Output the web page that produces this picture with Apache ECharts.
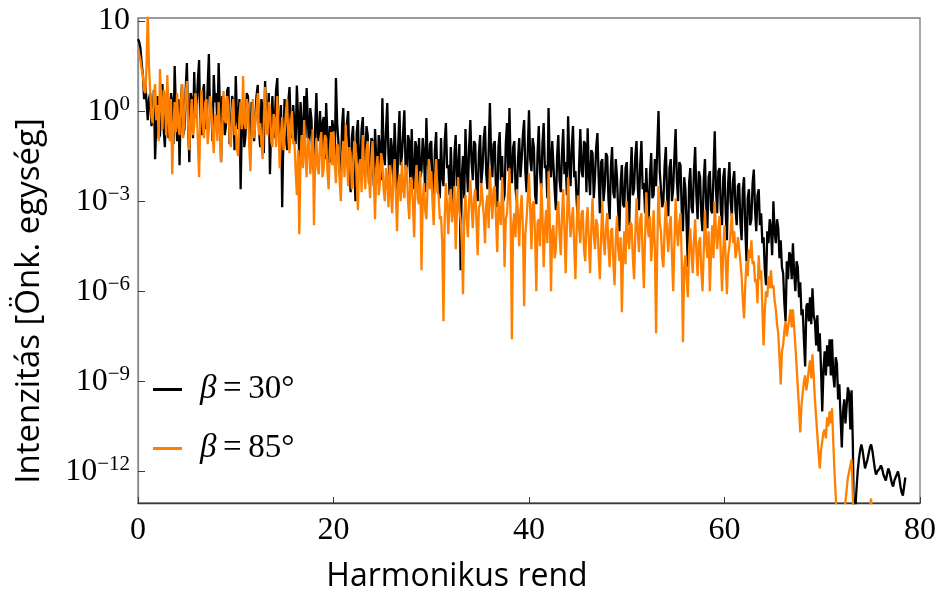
<!DOCTYPE html>
<html>
<head>
<meta charset="utf-8">
<title>Harmonikus spektrum</title>
<script src="https://cdn.jsdelivr.net/npm/echarts@6/dist/echarts.min.js"></script>
<style>
  html, body { margin: 0; padding: 0; background: #fff; }
  #chart { width: 941px; height: 599px; }
</style>
</head>
<body>
<div id="chart"></div>
<script>
// sampling step of the harmonic order axis
const STEP = 0.125;

// log10 of the intensity, one value per STEP (8 per harmonic)
const beta30Log = [
  2.4, 2.3, 2.1, 1.6, 1.2, 0.4, 0.9, 0.3,
  -0.3, 0.4, 0.6, -0.5, -0.2, 0.7, -1.6, -0.4,
  0.5, -0.9, -0.8, 0.3, 0.9, -0.6, -1.2, 0.2,
  0.8, -0.9, -0.5, 0.6, 0.3, -1.1, 1.5, 0.1,
  -1.0, 0.4, -1.8, 0.2, 0.9, -0.8, -0.6, 0.7,
  1.6, -0.4, -1.7, 0.6, 0.4, -0.9, 1.3, -0.2,
  0.2, 1.0, 1.7, -0.5, -0.8, 0.6, 0.9, -0.6,
  -0.3, 0.8, 1.9, -0.2, 0.1, -1.0, 1.2, 0.3,
  0.6, -0.6, 1.6, 0.2, -1.7, 0.5, 0.4, -0.8,
  -0.5, 0.7, 0.8, -1.1, -0.9, 0.5, 0.3, -1.3,
  1.17, -0.2, -0.6, 0.4, -2.6, -0.4, 0.2, -1.2,
  -0.8, 0.6, 0.5, -0.7, -1.5, 0.3, 0.3, -1.0,
  -0.2, 0.5, 0.87, -0.6, -1.2, 0.4, 0.1, -1.4,
  1.0, -0.3, -0.4, 0.6, -2.1, -0.5, 0.5, -0.9,
  -0.3, 0.7, 1.1, -0.6, -1.0, 0.2, -3.2, -0.8,
  0.4, -0.8, -1.3, 0.3, 0.8, -0.5, -0.9, 0.2,
  0.2, -1.1, 0.85, -0.2, -1.6, 0.3, -0.4, -1.7,
  0.5, -0.9, 0.77, -0.3, -1.2, 0.1, -0.3, -1.8,
  -2.0, -0.5, 0.6, -1.0, -0.8, 0.0, -1.5, -0.4,
  -0.2, -1.6, 0.27, -0.8, -1.9, -0.5, -1.7, -0.3,
  -0.6, -1.8, 1.1, -0.4, -1.0, -2.1, -2.3, -0.5,
  0.1, -1.5, -1.4, -0.4, 0.0, -1.7, -2.7, -0.9,
  -0.5, -2.0, -3.0, -0.7, -0.3, -1.9, -1.8, -0.6,
  -0.2, -1.9, -1.6, -0.5, -0.8, -2.4, -2.2, -0.9,
  -1.0, -2.5, -0.6, -1.6, -2.4, -0.8, -1.2, -2.3,
  0.43, -1.4, -1.8, -0.6, 0.27, -1.5, -2.5, -0.9,
  -1.3, -2.4, -0.4, -1.5, -2.8, -1.1, 0.0, -1.8,
  -1.5, -0.7, 0.03, -1.9, -2.2, -0.8, -1.0, -2.6,
  -0.6, -2.0, -2.6, -1.0, -1.2, -2.7, -0.9, -2.2,
  -2.0, -0.9, -1.4, -2.7, -0.23, -1.6, -2.2, -1.1,
  -1.0, -2.4, -3.1, -1.3, -0.7, -2.3, -1.6, -2.9,
  -0.9, -2.2, -2.5, -1.0, -0.4, -1.9, -1.8, -2.8,
  -1.2, -2.3, -3.4, -1.4, -0.8, -2.5, -2.0, -1.1,
  -5.3, -2.2, -1.5, -2.9, -0.6, -1.8, -2.7, -1.2,
  -0.3, -1.7, -2.3, -1.0, -1.1, -2.6, -3.0, -1.4,
  -0.8, -2.4, -1.9, -0.9, -0.5, -2.1, -2.6, -1.3,
  0.27, -1.5, -2.2, -1.1, -1.0, -2.7, -3.2, -1.2,
  -0.7, -2.3, -1.5, -3.0, -2.8, -1.1, -0.4, -2.0,
  0.1, -1.8, -2.4, -1.2, -1.0, -2.6, -3.0, -1.6,
  -0.9, -2.2, -1.6, -0.8, -0.3, -2.0, -2.7, -1.3,
  0.03, -1.6, -2.0, -0.9, -1.2, -2.8, -3.1, -1.4,
  -0.5, -2.0, -2.6, -1.1, -0.4, -1.9, -1.8, -2.9,
  0.1, -1.7, -2.2, -1.0, -1.0, -2.6, -3.3, -1.5,
  -0.8, -2.3, -2.7, -1.4, -0.6, -2.1, -1.7, -2.8,
  -0.17, -1.6, -2.5, -1.2, -0.5, -2.2, -2.0, -3.0,
  -3.6, -1.8, -0.6, -2.0, -2.2, -1.0, -1.1, -2.7,
  -0.57, -2.1, -2.8, -1.3, -1.4, -2.9, -2.2, -1.2,
  -0.73, -2.2, -3.4, -1.7, -1.6, -3.0, -2.5, -1.4,
  -1.5, -2.9, -3.6, -1.9, -1.2, -2.7, -2.9, -1.6,
  -2.2, -3.3, -4.0, -2.4, -1.8, -3.1, -3.2, -1.9,
  -1.7, -3.0, -3.8, -2.2, -1.2, -2.8, -2.6, -1.5,
  -1.0, -2.5, -3.3, -1.8, -1.0, -2.6, -2.4, -3.4,
  -1.9, -3.0, -3.6, -2.1, -1.4, -2.9, -2.8, -1.6,
  -2.5, -1.2, 0.0, -2.0, -2.0, -3.2, -3.0, -1.8,
  -1.2, -2.8, -3.5, -1.9, -1.6, -3.0, -2.6, -1.5,
  -0.6, -2.3, -3.0, -1.7, -1.8, -3.3, -4.0, -2.2,
  -2.6, -3.8, -5.2, -2.4, -1.9, -3.2, -3.4, -2.0,
  -1.2, -2.8, -3.6, -2.0, -2.2, -3.5, -4.0, -2.3,
  -1.6, -3.1, -3.9, -2.2, -2.0, -3.3, -3.4, -2.1,
  -0.67, -2.6, -3.4, -2.0, -1.9, -3.3, -3.8, -2.2,
  -1.9, -3.4, -4.3, -2.4, -1.7, -3.0, -3.5, -2.3,
  -2.0, -3.3, -3.8, -2.5, -2.4, -3.7, -4.3, -2.6,
  -2.2, -3.9, -5.0, -2.9, -2.6, -3.8, -3.6, -2.4,
  -1.95, -3.3, -4.0, -2.8, -2.6, -3.8, -3.4, -4.4,
  -4.2, -5.3, -5.8, -4.0, -4.4, -3.6, -3.9, -4.8,
  -3.0, -4.0, -4.4, -3.6, -3.9, -4.9, -4.3, -5.2,
  -5.4, -6.4, -7.0, -5.0, -5.6, -4.7, -4.8, -5.6,
  -4.4, -5.4, -6.0, -5.0, -5.2, -6.2, -5.7, -6.8,
  -6.6, -7.6, -8.5, -6.5, -6.4, -7.0, -6.2, -7.1,
  -5.9, -6.8, -7.0, -7.8, -6.8, -8.0, -7.4, -8.6,
  -10.0, -8.6, -8.0, -8.8, -7.8, -8.5, -7.6, -8.8,
  -7.6, -8.8, -9.2, -8.2, -8.4, -9.6, -9.1, -10.2,
  -11.2, -10.0, -9.6, -10.4, -9.8, -9.2, -9.4, -10.6,
  -9.3, -11.0, -14, -14, -12.6, -12.0, -11.6, -11.3,
  -11.1, -11.3, -11.6, -11.9, -11.9, -11.6, -11.4, -11.2,
  -11.1, -11.3, -11.6, -11.9, -12.1, -12.0, -12.0, -11.9,
  -11.8, -11.9, -12.1, -12.2, -12.3, -12.1, -11.9, -12.0,
  -12.2, -12.4, -12.5, -12.3, -12.2, -12.1, -12.0, -12.2,
  -12.5, -12.7, -12.8, -12.5, -12.2
];

const beta85Log = [
  2.0, 1.9, 1.7, 1.4, 1.2, 0.7, 0.6, 1.5,
  3.3, 1.5, 0.6, -0.2, -0.4, 0.5, 0.9, -0.3,
  0.2, -1.0, 1.4, 0.3, -0.6, 0.7, 0.5, -0.8,
  1.2, -0.3, -1.0, 0.4, -2.1, -0.6, 0.3, -0.7,
  0.6, -0.5, -0.8, 0.2, 0.9, -0.9, -0.2, 0.5,
  1.0, -0.4, -1.3, -0.2, 0.4, -0.8, -0.5, 0.6,
  0.2, -1.0, -2.2, -0.3, 0.7, -0.4, -0.9, 0.3,
  0.4, -1.1, -0.6, 0.5, 0.1, -0.7, -1.4, -0.1,
  -0.2, -1.0, 0.3, -0.5, -1.7, -0.4, 0.67, -0.3,
  -0.4, 0.5, 0.2, -0.9, -1.2, 0.0, 0.4, -0.8,
  -0.5, -1.3, -1.5, -0.2, 0.3, -0.6, 1.17, -0.4,
  -0.6, 0.4, 0.2, -1.1, -2.0, -0.5, 0.4, -0.9,
  -0.9, 0.1, 0.6, -0.8, -0.4, -1.1, -1.6, -0.3,
  0.8, -0.5, -0.8, 0.3, 0.1, -1.0, -1.2, -0.1,
  -0.3, -1.2, 0.5, -0.6, -1.9, -0.8, -0.2, -1.3,
  -0.8, -0.1, 0.4, -0.9, -1.4, -0.5, 0.0, -1.1,
  -1.0, -2.0, -2.8, -1.3, -4.1, -1.6, -0.8, -1.9,
  -0.3, -1.4, -2.2, -0.9, -1.0, -2.1, -1.6, -0.6,
  -3.8, -1.6, -0.9, -1.9, -2.1, -1.0, -0.7, -2.2,
  -1.9, -0.8, -0.9, -2.0, -2.6, -1.3, -0.7, -1.8,
  -0.67, -1.7, -2.4, -1.1, -1.2, -2.3, -3.0, -1.5,
  -1.0, -2.2, -0.45, -1.6, -2.5, -1.2, -1.4, -2.6,
  -2.0, -1.0, -1.1, -2.4, -3.3, -1.8, -1.6, -2.7,
  -0.8, -1.9, -2.6, -1.3, -1.0, -2.2, -2.9, -1.6,
  -1.0, -2.3, -3.6, -1.9, -1.5, -2.8, -2.4, -1.4,
  -1.7, -2.6, -3.0, -1.9, -2.2, -3.2, -1.8, -2.7,
  -3.4, -2.2, -1.6, -2.7, -4.0, -2.4, -2.1, -3.0,
  -1.7, -2.6, -2.9, -1.8, -1.9, -3.0, -3.6, -2.2,
  -2.3, -3.1, -4.2, -2.4, -1.8, -2.9, -3.1, -2.0,
  -5.3, -3.0, -2.4, -3.3, -3.6, -2.5, -1.6, -2.6,
  -2.0, -3.0, -3.8, -2.4, -1.6, -2.7, -2.8, -3.6,
  -3.5, -4.4, -7.0, -3.6, -2.4, -3.2, -4.1, -2.9,
  -2.6, -3.7, -3.3, -2.5, -4.6, -3.4, -2.2, -3.3,
  -3.6, -4.4, -6.1, -3.5, -2.8, -3.6, -4.2, -3.0,
  -2.3, -3.2, -3.9, -2.9, -2.6, -3.7, -4.8, -3.2,
  -3.1, -2.4, -2.4, -3.5, -4.4, -3.1, -2.8, -3.9,
  -1.9, -2.9, -3.6, -2.6, -2.5, -3.6, -4.7, -3.0,
  -3.0, -3.8, -2.2, -3.2, -5.2, -3.6, -3.4, -2.7,
  -1.9, -3.6, -7.6, -3.8, -3.4, -4.2, -2.6, -3.5,
  -4.5, -3.3, -2.8, -3.9, -6.5, -4.1, -3.6, -2.9,
  -2.07, -3.3, -4.6, -3.1, -3.0, -4.2, -6.0, -3.7,
  -3.6, -4.5, -2.4, -3.4, -5.2, -3.9, -3.3, -4.4,
  -2.0, -3.6, -6.0, -4.0, -3.8, -4.9, -4.6, -3.4,
  -3.0, -4.1, -4.8, -3.5, -2.6, -3.9, -5.4, -3.8,
  -2.2, -3.4, -4.2, -3.6, -3.2, -4.5, -5.6, -3.9,
  -2.8, -3.9, -4.4, -3.4, -3.3, -4.6, -5.0, -3.7,
  -3.2, -4.4, -5.4, -3.9, -2.9, -4.1, -4.6, -3.6,
  -3.8, -4.8, -5.6, -4.2, -3.0, -4.3, -4.8, -3.9,
  -3.4, -4.5, -5.2, -4.0, -3.9, -5.0, -5.8, -4.3,
  -3.5, -4.6, -5.0, -4.2, -6.7, -4.8, -4.0, -5.1,
  -3.0, -4.2, -4.6, -3.7, -3.8, -4.9, -5.6, -4.1,
  -2.9, -4.0, -4.7, -3.6, -3.4, -4.8, -5.9, -4.2,
  -2.7, -3.8, -4.2, -3.5, -5.0, -4.3, -3.3, -4.6,
  -7.4, -4.5, -2.5, -3.7, -4.0, -4.9, -5.2, -3.9,
  -3.0, -4.1, -4.7, -3.8, -3.5, -4.8, -6.0, -4.4,
  -2.9, -4.0, -4.5, -3.7, -3.4, -5.0, -7.7, -5.2,
  -4.8, -5.6, -6.2, -4.6, -3.9, -4.8, -5.4, -4.3,
  -3.6, -4.7, -5.5, -4.4, -4.2, -5.3, -6.0, -4.7,
  -3.3, -4.4, -4.9, -4.0, -6.0, -4.7, -3.8, -4.9,
  -3.0, -4.0, -4.6, -3.9, -3.5, -4.9, -6.0, -4.6,
  -3.8, -5.0, -6.1, -4.8, -4.5, -4.0, -3.4, -4.4,
  -4.0, -4.9, -4.6, -4.2, -4.2, -5.0, -5.5, -6.3,
  -6.9, -5.8, -5.0, -5.5, -4.6, -4.9, -4.3, -5.1,
  -5.0, -5.7, -5.6, -6.4, -4.8, -5.6, -5.3, -6.6,
  -7.8, -6.6, -6.0, -6.2, -5.5, -5.9, -5.3, -5.9,
  -5.8, -6.3, -6.6, -7.1, -7.4, -8.2, -9.1, -8.0,
  -7.8, -7.3, -7.0, -7.5, -7.2, -6.9, -6.6, -7.2,
  -6.6, -7.2, -7.8, -8.5, -9.2, -9.9, -10.7, -9.8,
  -9.4, -9.0, -8.8, -9.3, -9.0, -8.6, -8.3, -8.9,
  -8.1, -8.8, -9.6, -10.2, -10.8, -11.4, -11.9, -11.3,
  -11.0, -10.7, -10.6, -10.9, -10.2, -10.5, -10.0, -10.4,
  -9.9, -11.0, -12.0, -12.8, -13.6, -14, -14, -14,
  -14, -14, -13.4, -13.0, -12.6, -12.2, -12.0, -11.8,
  -11.6, -12.8, -14, -14, -14, -14, -14, -14,
  -14, -14, -14, -14, -14, -14, -13.5, -13.2,
  -12.9, -14
];

const seriesNames = ['β=30°', 'β=85°'];
const seriesColors = ['#000000', '#ff8000'];
const xTicks = [0, 20, 40, 60, 80];
const yTickExp = [-12, -9, -6, -3, 0, 3];

function toPoints(logs) {
  return logs.map((v, i) => [i * STEP, Math.pow(10, v)]);
}

const chart = echarts.init(document.getElementById('chart'), null, { renderer: 'canvas' });

const serif = '"Liberation Serif", "DejaVu Serif", serif';
const sans = '"Open Sans", "Noto Sans", sans-serif';

const option = {
  animation: false,
  backgroundColor: '#ffffff',
  grid: {
    left: 138, right: 21, top: 18, bottom: 96,
    show: true, borderColor: '#7a7a7a', borderWidth: 1.3, backgroundColor: 'transparent'
  },
  legend: {
    orient: 'vertical',
    left: 148,
    top: 366,
    itemWidth: 29,
    itemHeight: 3,
    itemGap: 22,
    icon: 'rect',
    selectedMode: false,
    data: seriesNames,
    // italic beta, thin gaps round the equals sign
    formatter: name => '{i|β}{t|\u2009=\u2009' + name.slice(2) + '}',
    textStyle: {
      fontFamily: serif, fontSize: 33, color: '#000', lineHeight: 37, padding: [0, 0, 0, 13],
      rich: {
        i: { fontFamily: serif, fontSize: 33, fontStyle: 'italic', color: '#000', lineHeight: 37 },
        t: { fontFamily: serif, fontSize: 33, color: '#000', lineHeight: 37 }
      }
    }
  },
  xAxis: {
    type: 'value',
    min: 0,
    max: 80,
    interval: 20,
    axisLine: { show: true, lineStyle: { color: '#3a3a3a', width: 1.3 } },
    axisTick: { show: true, inside: true, length: 6, lineStyle: { color: '#3a3a3a' } },
    splitLine: { show: false },
    axisLabel: {
      margin: 12,
      fontFamily: serif, fontSize: 32, color: '#000',
      customValues: xTicks
    }
  },
  yAxis: {
    type: 'log',
    logBase: 10,
    min: Math.pow(10, -13.05),
    max: Math.pow(10, 3.1),
    axisLine: { show: true, lineStyle: { color: '#8a8a8a', width: 1.3 } },
    axisTick: {
      show: true, inside: true, length: 7, lineStyle: { color: '#3a3a3a' },
      customValues: yTickExp.map(e => Math.pow(10, e))
    },
    splitLine: { show: false },
    minorTick: { show: false },
    axisLabel: {
      margin: 8,
      customValues: yTickExp.map(e => Math.pow(10, e)),
      formatter: function (v) {
        const e = Math.round(Math.log10(v));
        if (e === 3) return '{b|10}';
        const s = e < 0 ? '\u2212' + (-e) : String(e);
        return '{b|10}{s|' + s + '}';
      },
      rich: {
        b: { fontFamily: serif, fontSize: 32, color: '#000', lineHeight: 34 },
        s: { fontFamily: serif, fontSize: 21, color: '#000', verticalAlign: 'top', lineHeight: 34 }
      }
    }
  },
  graphic: [
    {
      type: 'text',
      x: 30, y: 301,
      rotation: Math.PI / 2,
      silent: true,
      style: {
        text: 'Intenzitás [Önk. egység]',
        font: '33px ' + sans,
        fill: '#000',
        textAlign: 'center',
        textVerticalAlign: 'middle'
      }
    },
    {
      type: 'text',
      x: 457, y: 577,
      silent: true,
      style: {
        text: 'Harmonikus rend',
        font: '32px ' + sans,
        fill: '#000',
        textAlign: 'center',
        textVerticalAlign: 'middle'
      }
    }
  ],
  series: [
    {
      name: seriesNames[0],
      type: 'line',
      data: toPoints(beta30Log),
      showSymbol: false,
      symbol: 'none',
      color: seriesColors[0],
      lineStyle: { color: seriesColors[0], width: 2.3 },
      emphasis: { disabled: true },
      clip: true,
      z: 2
    },
    {
      name: seriesNames[1],
      type: 'line',
      data: toPoints(beta85Log),
      showSymbol: false,
      symbol: 'none',
      color: seriesColors[1],
      lineStyle: { color: seriesColors[1], width: 2.3 },
      emphasis: { disabled: true },
      clip: true,
      z: 3
    }
  ]
};

chart.setOption(option);

window.addEventListener('resize', () => chart.resize());
</script>
</body>
</html>
